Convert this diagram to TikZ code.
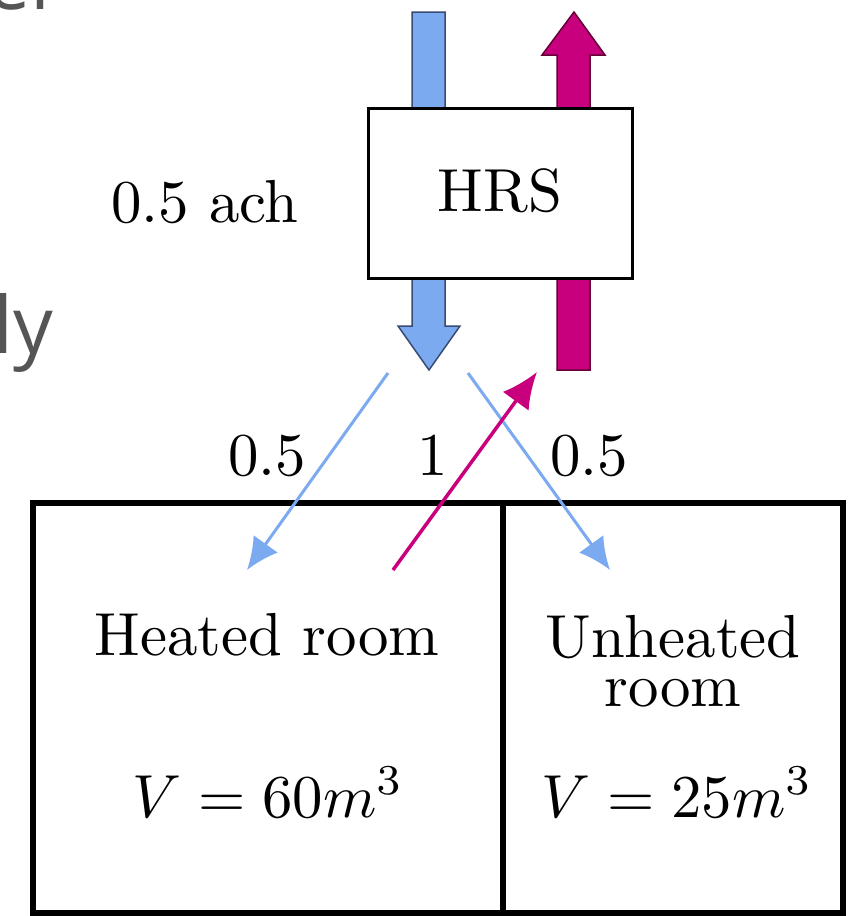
\documentclass[tikz,border=0pt]{standalone}
\usepackage{fontspec}
\newfontfamily\slidefont{Open Sans}
\usetikzlibrary{arrows.meta}
\definecolor{supply}{RGB}{124,170,240}
\definecolor{supplyedge}{RGB}{55,75,115}
\definecolor{exhaust}{RGB}{200,0,125}
\definecolor{exhaustedge}{RGB}{100,0,55}
\definecolor{slidegray}{RGB}{85,85,85}
\newcommand{\bigtxt}[1]{\scalebox{6.08}{#1}}
\begin{document}
\begin{tikzpicture}[x=1pt,y=-1pt,
  lbl/.style={inner sep=0pt},
  frag/.style={font=\slidefont\fontsize{79}{90}\selectfont, text=slidegray, anchor=base west, inner sep=0pt},
  bigarrow/.style={line width=1.5pt, line join=miter},
  flowblue/.style={draw=supply, line width=3pt, -{Latex[length=32pt,width=30pt]}},
  flowmag/.style={draw=exhaust, line width=3.5pt, -{Latex[length=36pt,width=32pt]}},
  wall/.style={line width=6pt}]
\useasboundingbox (0,0) rectangle (849,916);
% slide fragments
\node[frag] (frag1) at (-14,9) {er};
\node[frag] (frag2) at (-7,353) {ly};
% big arrows
\draw[bigarrow, fill=supply, draw=supplyedge]
  (412,12) -- (445,12) -- (445,326) -- (460,326) -- (429,370) -- (398,326) -- (412,326) -- cycle;
\draw[bigarrow, fill=exhaust, draw=exhaustedge]
  (557,370) -- (590,370) -- (590,55) -- (605,55) -- (574,12) -- (542,55) -- (557,55) -- cycle;
% HRS box
\node[draw, line width=3pt, fill=white, minimum width=264pt, minimum height=170pt,
      inner sep=0pt] (hrs) at (500,193) {};
\node[lbl, anchor=base] (hrslabel) at (hrs.center |- 0,211) {\bigtxt{HRS}};
\node[lbl, anchor=base] (ach) at (205,222) {\bigtxt{0.5 ach}};
% rooms
\draw[wall] (33,503) rectangle (843,913);
\draw[wall] (503,503) -- (503,913);
\node[lbl, anchor=base] (heated) at (267,655) {\bigtxt{Heated room}};
\node[lbl, anchor=base] (unheated) at (673,657)
  {\bigtxt{\begin{tabular}[t]{@{}c@{}}Unheated\\[-3.8pt]room\end{tabular}}};
\node[lbl, anchor=base] (vheated) at (268,817) {\bigtxt{$V = 60m^3$}};
\node[lbl, anchor=base] (vunheated) at (677,817) {\bigtxt{$V = 25m^3$}};
% flow labels
\node[lbl, anchor=base] (f1) at (267,475) {\bigtxt{0.5}};
\node[lbl, anchor=base] (f2) at (433,475) {\bigtxt{1}};
\node[lbl, anchor=base] (f3) at (589,475) {\bigtxt{0.5}};
% thin flow arrows
\coordinate (s1) at (388,373);
\coordinate (t1) at (247,570);
\coordinate (s2) at (468,373);
\coordinate (t2) at (610,570);
\coordinate (s3) at (393,570);
\coordinate (t3) at (537,372);
\draw[flowblue] (s1) -- (t1);
\draw[flowblue] (s2) -- (t2);
\draw[flowmag] (s3) -- (t3);
\end{tikzpicture}
\end{document}
